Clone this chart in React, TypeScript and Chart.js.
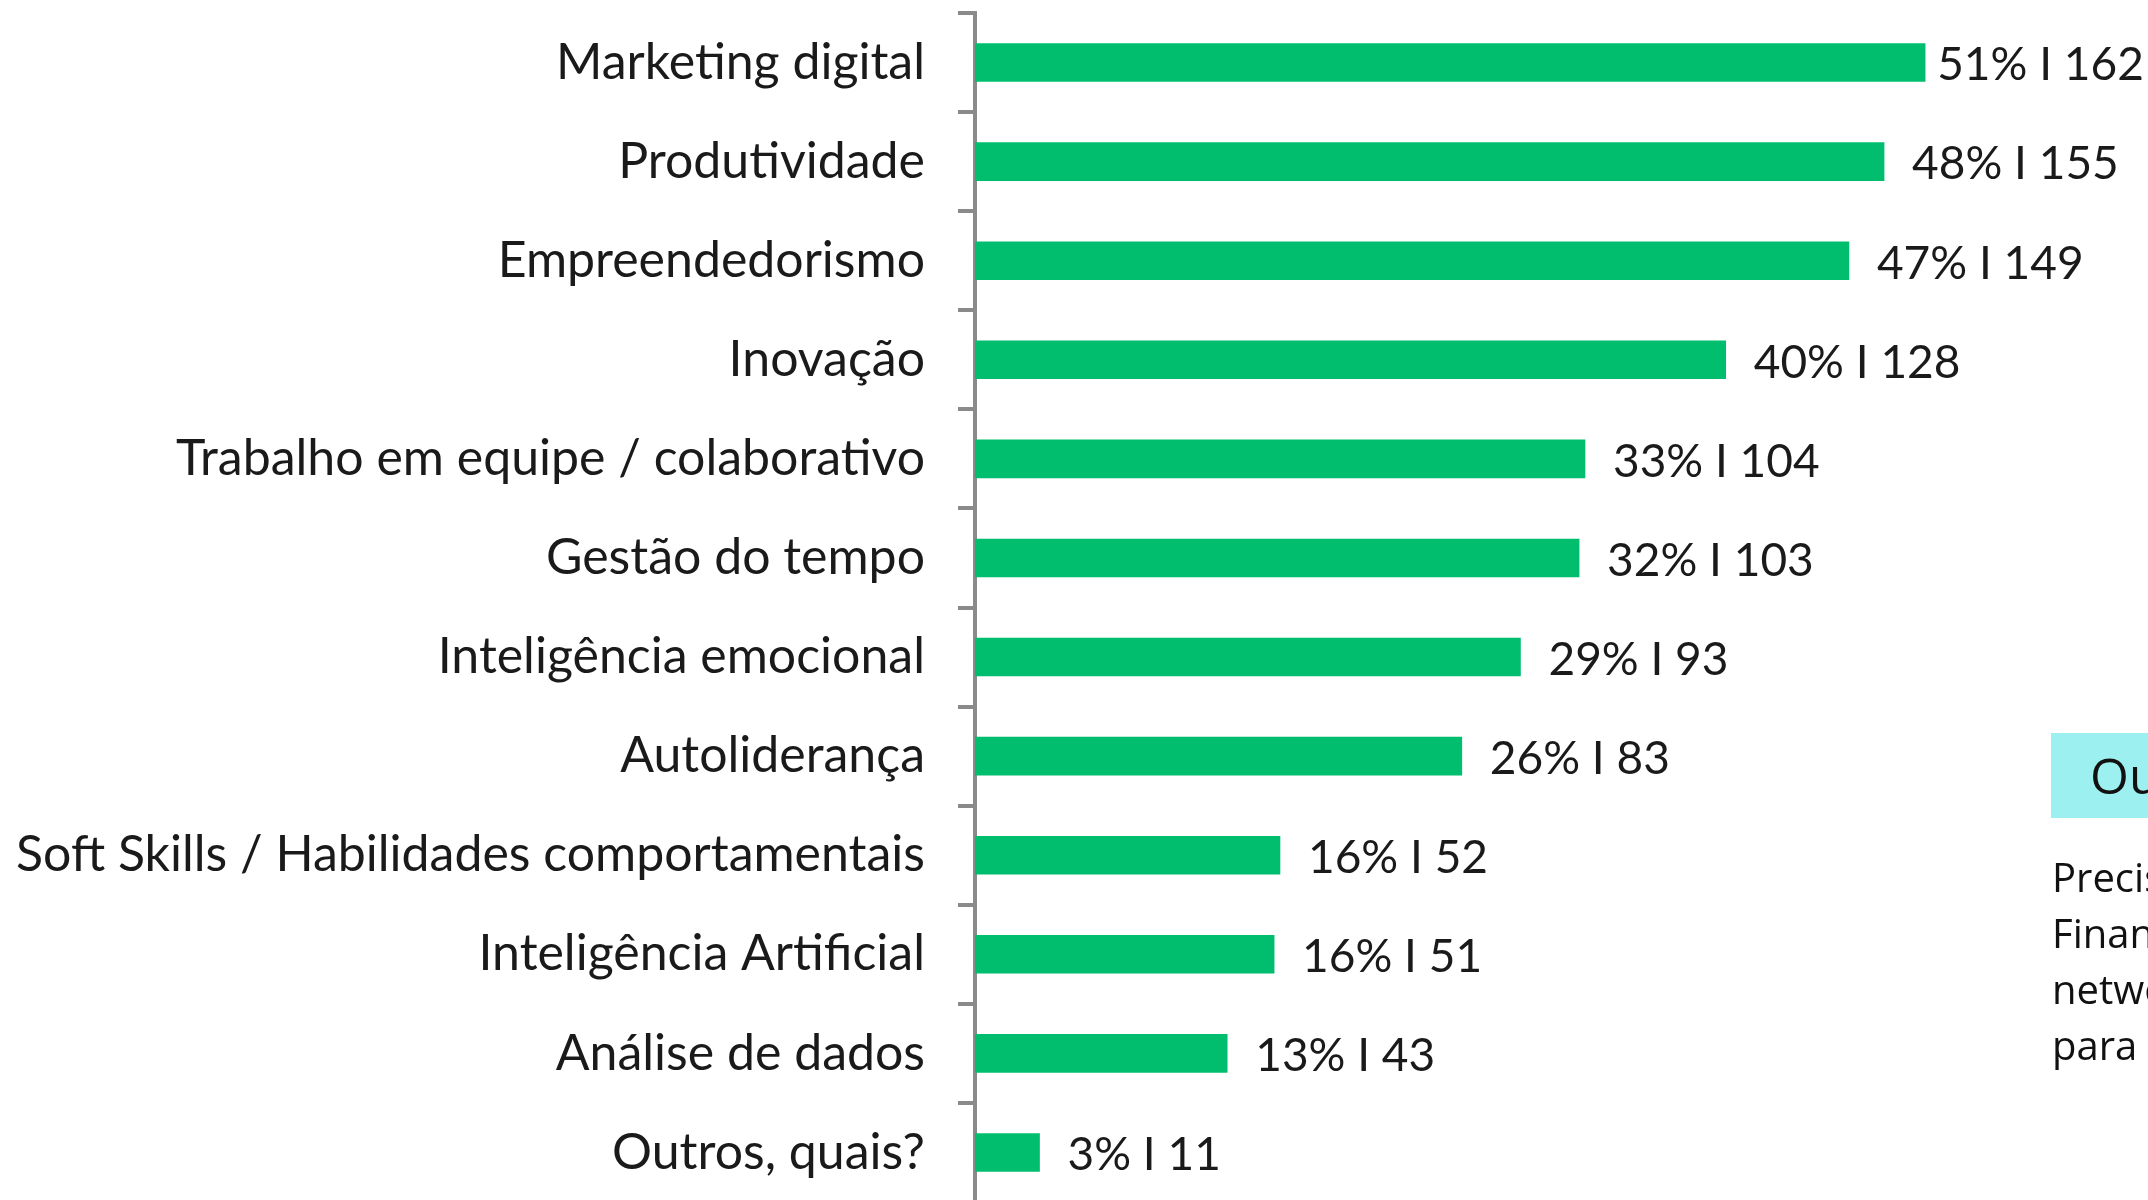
import React, { useEffect, useRef } from "react";
import { Chart, registerables } from "chart.js";

Chart.register(...registerables);

const categories = [
  "Marketing digital",
  "Produtividade",
  "Empreendedorismo",
  "Inovação",
  "Trabalho em equipe / colaborativo",
  "Gestão do tempo",
  "Inteligência emocional",
  "Autoliderança",
  "Soft Skills / Habilidades comportamentais",
  "Inteligência Artificial",
  "Análise de dados",
  "Outros, quais?",
];
const percents = [51, 48, 47, 40, 33, 32, 29, 26, 16, 16, 13, 3];
const counts = [162, 155, 149, 128, 104, 103, 93, 83, 52, 51, 43, 11];

const sideTitle = "Outros";
const sideLines = ["Precisa", "Finanças", "networking", "para a"];

const W = 2148;
const H = 1210;

const labelPlugin = {
  id: "barLabels",
  afterDatasetsDraw(chart: any) {
    const ctx = chart.ctx;
    const meta = chart.getDatasetMeta(0);
    ctx.save();
    ctx.font = "46px Lato";
    ctx.fillStyle = "#1a1a1a";
    ctx.textBaseline = "middle";
    ctx.textAlign = "left";
    meta.data.forEach((bar: any, i: number) => {
      const text = `${percents[i]}% I ${counts[i]}`;
      const tw = ctx.measureText(text).width;
      let x = bar.x + 28;
      if (x + tw > chart.width - 8) x = Math.max(bar.x + 12, chart.width - 8 - tw);
      ctx.fillText(text, x, bar.y + 3);
    });
    ctx.restore();
  },
};

export default function App() {
  const ref = useRef<HTMLCanvasElement | null>(null);

  useEffect(() => {
    if (!ref.current) return;
    const chart = new Chart(ref.current, {
      type: "bar",
      data: {
        labels: categories,
        datasets: [
          {
            data: counts,
            backgroundColor: "#00BE6E",
            borderWidth: 0,
            barThickness: 38,
          },
        ],
      },
      options: {
        indexAxis: "y",
        responsive: false,
        animation: false,
        layout: { padding: { left: 0, right: 0, top: 13, bottom: 8 } },
        plugins: {
          legend: { display: false },
          tooltip: { enabled: false },
        },
        scales: {
          x: { display: false, min: 0, max: 200 },
          y: {
            grid: {
              display: true,
              drawOnChartArea: false,
              drawTicks: true,
              tickLength: 17,
              color: "#8a8a8a",
              lineWidth: 4,
              offset: true,
            },
            border: { display: true, color: "#8a8a8a", width: 4 },
            ticks: {
              color: "#1a1a1a",
              font: { family: "Lato", size: 50 },
              padding: 33,
              autoSkip: false,
            },
            afterFit: (s: any) => {
              s.width = 975;
              s.paddingTop = 0;
              s.paddingBottom = 0;
            },
          },
        },
      },
      plugins: [labelPlugin],
    } as any);
    return () => chart.destroy();
  }, []);

  return (
    <div
      style={{
        position: "fixed",
        left: 0,
        top: 0,
        width: 2148,
        height: 1200,
        overflow: "hidden",
        background: "#ffffff",
      }}
    >
      <canvas
        ref={ref}
        width={W}
        height={H}
        style={{ position: "absolute", left: 0, top: 0, width: W, height: H }}
      />
      <div
        style={{
          position: "absolute",
          left: 2051,
          top: 733,
          width: 300,
          height: 85,
          background: "#9DF0F0",
          fontFamily: "'Open Sans'",
          fontSize: 50,
          color: "#111",
          lineHeight: "85px",
          paddingLeft: 39,
          boxSizing: "border-box",
          whiteSpace: "nowrap",
        }}
      >
        {sideTitle}
      </div>
      <div
        style={{
          position: "absolute",
          left: 2052,
          top: 849,
          width: 400,
          fontFamily: "'Open Sans'",
          fontSize: 40,
          lineHeight: "56px",
          color: "#111",
          whiteSpace: "nowrap",
        }}
      >
        {sideLines.map((l, i) => (
          <div key={i}>{l}</div>
        ))}
      </div>
    </div>
  );
}
